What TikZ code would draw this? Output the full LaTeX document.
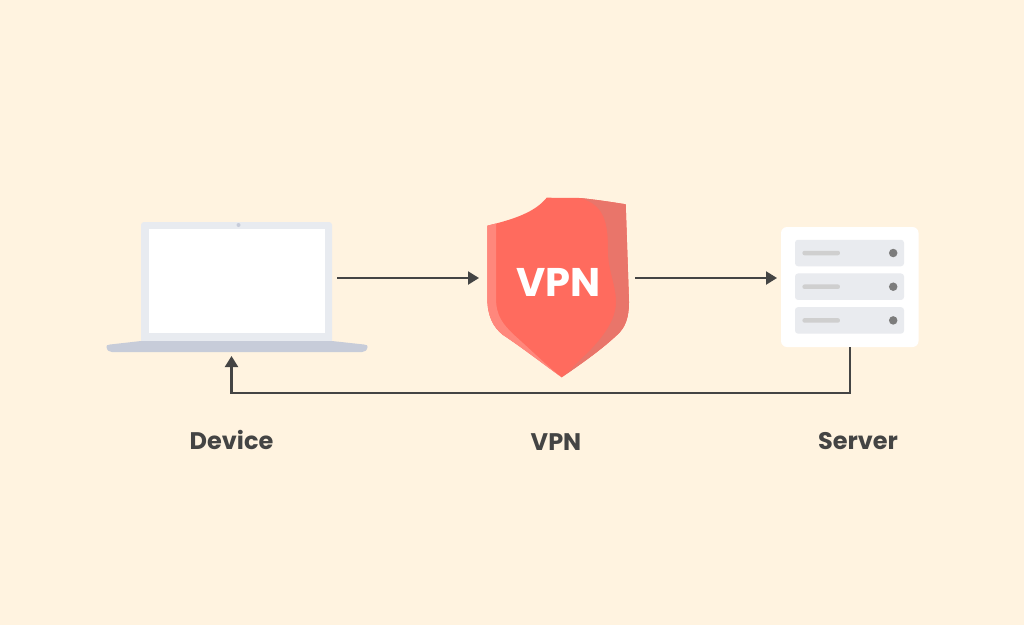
\documentclass[tikz,border=0pt]{standalone}
\usepackage{fontspec}
\setmainfont{Poppins}
\usetikzlibrary{arrows.meta}
\definecolor{paper}{HTML}{FFF3E0}
\definecolor{lidgray}{HTML}{E8EBF0}
\definecolor{basegray}{HTML}{C7CCD9}
\definecolor{shieldred}{HTML}{FF6B5E}
\definecolor{shielddark}{HTML}{E9756A}
\definecolor{shieldlight}{HTML}{FF877C}
\definecolor{inkgray}{HTML}{444444}
\definecolor{rowgray}{HTML}{E9EBEF}
\definecolor{dashgray}{HTML}{CFCFCF}
\definecolor{dotgray}{HTML}{7C7C7C}
\tikzset{
  panel/.style={inner sep=0pt,outer sep=0pt,rectangle},
  flowline/.style={draw=inkgray,line width=2.2pt,-{Triangle[length=11pt,width=13pt]}},
  caption/.style={inner sep=0pt,text=inkgray,font=\fontsize{24}{28}\selectfont\bfseries}
}
\begin{document}
\begin{tikzpicture}[x=1pt,y=-1pt]
  \useasboundingbox[fill=paper] (0,0) rectangle (1024,625);
  % laptop
  \node[panel,fill=lidgray,rounded corners=3pt,minimum width=191pt,minimum height=121pt] (device) at (236.5,282.5) {};
  \node[panel,fill=white,minimum width=176pt,minimum height=104pt] (screen) at (237,281) {};
  \node[panel,circle,fill=basegray,minimum size=4pt] (camera) at (238.5,225) {};
  \node[panel,minimum width=262pt,minimum height=11pt] (base) at (237,346.5) {};
  \fill[basegray] (141,341) -- (332,341) -- (364,344.5) .. controls (367,344.8) and (368,345.5) .. (367.5,347)
    .. controls (367,350.5) and (365,352) .. (362,352) -- (112,352)
    .. controls (109,352) and (107,350.5) .. (106.5,347) .. controls (106,345.5) and (107,344.8) .. (110,344.5) -- cycle;
  % shield
  \fill[shieldred] (546.7,197.7) -- (580,198) .. controls (600,200) and (625.7,204.3) .. (625.7,204.3)
    -- (629,302) .. controls (629,318) and (625,328) .. (617,335)
    .. controls (600,351) and (578,366) .. (561.7,377.3)
    .. controls (550,369) and (520,346) .. (503,335)
    .. controls (493,327) and (487.3,316) .. (487.3,298)
    -- (487.3,225.7) .. controls (515,219) and (535,212) .. (546.7,197.7) -- cycle;
  \fill[shielddark] (580,198) .. controls (600,200) and (625.7,204.3) .. (625.7,204.3)
    -- (629,302) .. controls (629,318) and (625,328) .. (617,335)
    .. controls (600,351) and (578,366) .. (561.7,377.3)
    .. controls (568,373) and (574,366) .. (580,360)
    .. controls (595,346) and (616,325) .. (616,302)
    .. controls (616,285) and (608,270) .. (608,252)
    .. controls (608,225) and (606,205) .. (580,198) -- cycle;
  \fill[shieldlight] (487.3,225.7) -- (496,223.5) -- (496,298)
    .. controls (496,316) and (503,324) .. (513,334)
    .. controls (530,349) and (548,367) .. (561.7,377.3)
    .. controls (550,369) and (520,346) .. (503,335)
    .. controls (493,327) and (487.3,316) .. (487.3,298) -- cycle;
  \node[panel,minimum width=143pt,minimum height=40pt] (shield) at (558.5,278) {};
  \node[inner sep=0pt,text=white,font=\fontsize{40}{44}\selectfont\bfseries] (shieldtext) at (558.5,282.5) {VPN};
  % server
  \node[panel,fill=white,rounded corners=6pt,minimum width=137.5pt,minimum height=120pt] (server) at (849.75,287) {};
  \foreach \name/\rowy in {rowa/253,rowb/286.7,rowc/320.4} {
    \node[panel,fill=rowgray,rounded corners=3pt,minimum width=109pt,minimum height=26.5pt] (\name) at (849.5,\rowy) {};
    \node[panel,fill=dashgray,rounded corners=2pt,minimum width=37.5pt,minimum height=4.5pt] (\name dash) at (821.2,\rowy) {};
    \node[panel,circle,fill=dotgray,minimum size=8.5pt] (\name dot) at (893.2,\rowy) {};
  }
  % labels
  \node[caption] (devicelabel) at (231.5,440) {Device};
  \node[caption] (vpnlabel) at (556,442) {VPN};
  \node[caption] (serverlabel) at (858,441) {Server};
  % connectors
  \coordinate (flow) at (0,278);
  \coordinate (back) at (231.5,393);
  \draw[flowline,shorten <=5pt,shorten >=8pt] (device.east |- flow) -- (shield.west);
  \draw[flowline,shorten <=5pt,shorten >=4pt] (shield.east) -- (server.west |- flow);
  \draw[flowline,shorten >=4pt] (server.south) |- (back) -- (back |- base.south);
\end{tikzpicture}
\end{document}
